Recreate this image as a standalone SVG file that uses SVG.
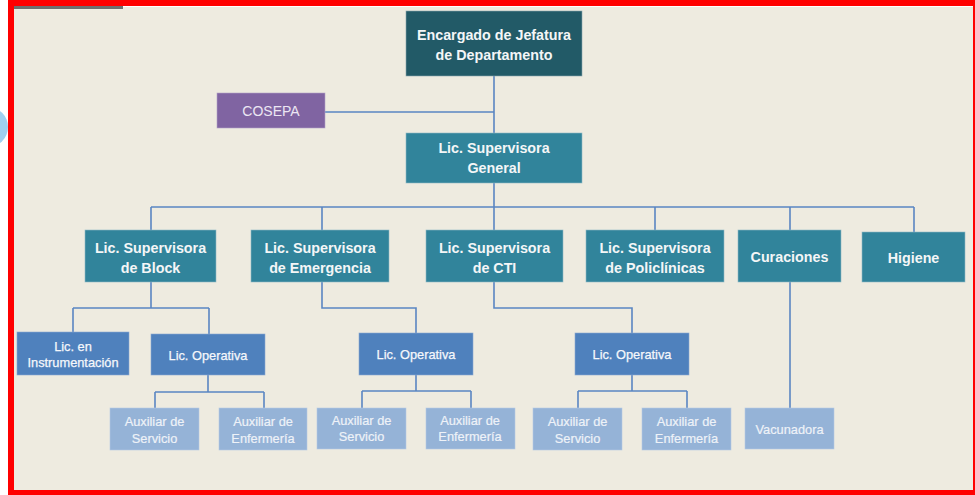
<svg xmlns="http://www.w3.org/2000/svg" width="975" height="495" viewBox="0 0 975 495">
  <style>
    .t { font-family: "Liberation Sans", Arial, sans-serif; text-anchor: middle; }
    .big { font-size: 14.3px; font-weight: bold; fill: #f4f6f7; }
    .mid { font-size: 12.8px; fill: #f5f7fb; stroke: #f5f7fb; stroke-width: 0.25; }
    .sm { font-size: 12.8px; fill: #eef2f8; stroke: #eef2f8; stroke-width: 0.2; }
    .dark { fill: #225a67; stroke: #8aa6ad; stroke-width: 0.6; }
    .teal { fill: #31849b; stroke: #8fbac6; stroke-width: 0.6; }
    .blue { fill: #4f81bd; stroke: #8aa9d2; stroke-width: 0.6; }
    .pale { fill: #95b3d7; stroke: #b5c9e3; stroke-width: 0.6; }
    .purple { fill: #8064a2; stroke: #b3a2c8; stroke-width: 0.6; }
    .link { fill: none; stroke: #5a86c2; stroke-width: 1.6; }
  </style>

  <!-- page -->
  <rect x="0" y="0" width="975" height="495" fill="#ffffff"/>
  <circle cx="-12" cy="127" r="20" fill="#9fd0f0"/>
  <rect x="14" y="6" width="959" height="484" fill="#eeebe0"/>
  <rect x="14" y="6" width="959" height="1" fill="#ffffff"/>
  <rect x="14" y="6" width="109" height="3" fill="#6f6f6f"/>
  <rect x="11" y="3" width="965" height="490" fill="none" stroke="#ff0000" stroke-width="6"/>

  <!-- connectors -->
  <g id="connectors">
    <path class="link" d="M494 76 V133 M325 112 H494"/>
    <path class="link" d="M494 183 V230 M151 207 H914 M151 207 V230 M322 207 V230 M655 207 V230 M790 207 V230 M914 207 V232"/>
    <path class="link" d="M151 282 V308 M73 308 H209 M73 308 V332 M209 308 V334"/>
    <path class="link" d="M322 282 V308 H416 V334"/>
    <path class="link" d="M494 282 V308 H632 V334"/>
    <path class="link" d="M790 282 V408"/>
    <path class="link" d="M208 375 V392 M155 392 H264 M155 392 V408 M264 392 V408"/>
    <path class="link" d="M416 375 V391 M362 391 H471 M362 391 V408 M471 391 V408"/>
    <path class="link" d="M632 375 V391 M578 391 H687 M578 391 V408 M687 391 V408"/>
  </g>

  <!-- level 1 -->
  <g id="encargado">
    <rect class="dark" x="406" y="11" width="176" height="65"/>
    <text class="t big" x="494" y="40">Encargado de Jefatura</text>
    <text class="t big" x="494" y="60">de Departamento</text>
  </g>
  <g id="cosepa">
    <rect class="purple" x="217" y="93" width="108" height="35"/>
    <text class="t" x="271" y="116" font-size="14" fill="#ece6f3">COSEPA</text>
  </g>
  <g id="sup-general">
    <rect class="teal" x="406" y="133" width="176" height="50"/>
    <text class="t big" x="494" y="153.3">Lic. Supervisora</text>
    <text class="t big" x="494" y="173.3">General</text>
  </g>

  <!-- level 2 -->
  <g id="sup-block">
    <rect class="teal" x="85" y="230" width="131" height="52"/>
    <text class="t big" x="150.5" y="253">Lic. Supervisora</text>
    <text class="t big" x="150.5" y="273">de Block</text>
  </g>
  <g id="sup-emergencia">
    <rect class="teal" x="251" y="230" width="138" height="52"/>
    <text class="t big" x="320" y="253">Lic. Supervisora</text>
    <text class="t big" x="320" y="273">de Emergencia</text>
  </g>
  <g id="sup-cti">
    <rect class="teal" x="426" y="230" width="137" height="52"/>
    <text class="t big" x="494.5" y="253">Lic. Supervisora</text>
    <text class="t big" x="494.5" y="273">de CTI</text>
  </g>
  <g id="sup-policlinicas">
    <rect class="teal" x="586" y="230" width="138" height="52"/>
    <text class="t big" x="655" y="253">Lic. Supervisora</text>
    <text class="t big" x="655" y="273">de Policlínicas</text>
  </g>
  <g id="curaciones">
    <rect class="teal" x="738" y="230" width="103" height="52"/>
    <text class="t big" x="789.5" y="261.7">Curaciones</text>
  </g>
  <g id="higiene">
    <rect class="teal" x="862" y="232" width="103" height="50"/>
    <text class="t big" x="913.5" y="263.3">Higiene</text>
  </g>

  <!-- level 3 -->
  <g id="instrumentacion">
    <rect class="blue" x="17" y="332" width="112" height="43"/>
    <text class="t mid" x="73" y="350.5">Lic. en</text>
    <text class="t mid" x="73" y="367.2">Instrumentación</text>
  </g>
  <g id="operativa-block">
    <rect class="blue" x="151" y="334" width="114" height="41"/>
    <text class="t mid" x="208" y="359.5">Lic. Operativa</text>
  </g>
  <g id="operativa-emergencia">
    <rect class="blue" x="359" y="333" width="114" height="42"/>
    <text class="t mid" x="416" y="358.7">Lic. Operativa</text>
  </g>
  <g id="operativa-cti">
    <rect class="blue" x="575" y="333" width="114" height="42"/>
    <text class="t mid" x="632" y="359">Lic. Operativa</text>
  </g>

  <!-- level 4 -->
  <g id="aux-servicio-block">
    <rect class="pale" x="110" y="408" width="89" height="42"/>
    <text class="t sm" x="154.5" y="426.2">Auxiliar de</text>
    <text class="t sm" x="154.5" y="442.8">Servicio</text>
  </g>
  <g id="aux-enfermeria-block">
    <rect class="pale" x="219" y="408" width="88" height="42"/>
    <text class="t sm" x="263" y="426.2">Auxiliar de</text>
    <text class="t sm" x="263" y="442.8">Enfermería</text>
  </g>
  <g id="aux-servicio-emergencia">
    <rect class="pale" x="317" y="408" width="89" height="41"/>
    <text class="t sm" x="361.5" y="424.7">Auxiliar de</text>
    <text class="t sm" x="361.5" y="441.2">Servicio</text>
  </g>
  <g id="aux-enfermeria-emergencia">
    <rect class="pale" x="426" y="408" width="89" height="41"/>
    <text class="t sm" x="470" y="424.7">Auxiliar de</text>
    <text class="t sm" x="470" y="441.2">Enfermería</text>
  </g>
  <g id="aux-servicio-cti">
    <rect class="pale" x="533" y="408" width="89" height="42"/>
    <text class="t sm" x="577.5" y="426.2">Auxiliar de</text>
    <text class="t sm" x="577.5" y="442.8">Servicio</text>
  </g>
  <g id="aux-enfermeria-cti">
    <rect class="pale" x="642" y="408" width="89" height="42"/>
    <text class="t sm" x="686.5" y="426.2">Auxiliar de</text>
    <text class="t sm" x="686.5" y="442.8">Enfermería</text>
  </g>
  <g id="vacunadora">
    <rect class="pale" x="745" y="408" width="89" height="41"/>
    <text class="t sm" x="789.5" y="433.5">Vacunadora</text>
  </g>
</svg>
